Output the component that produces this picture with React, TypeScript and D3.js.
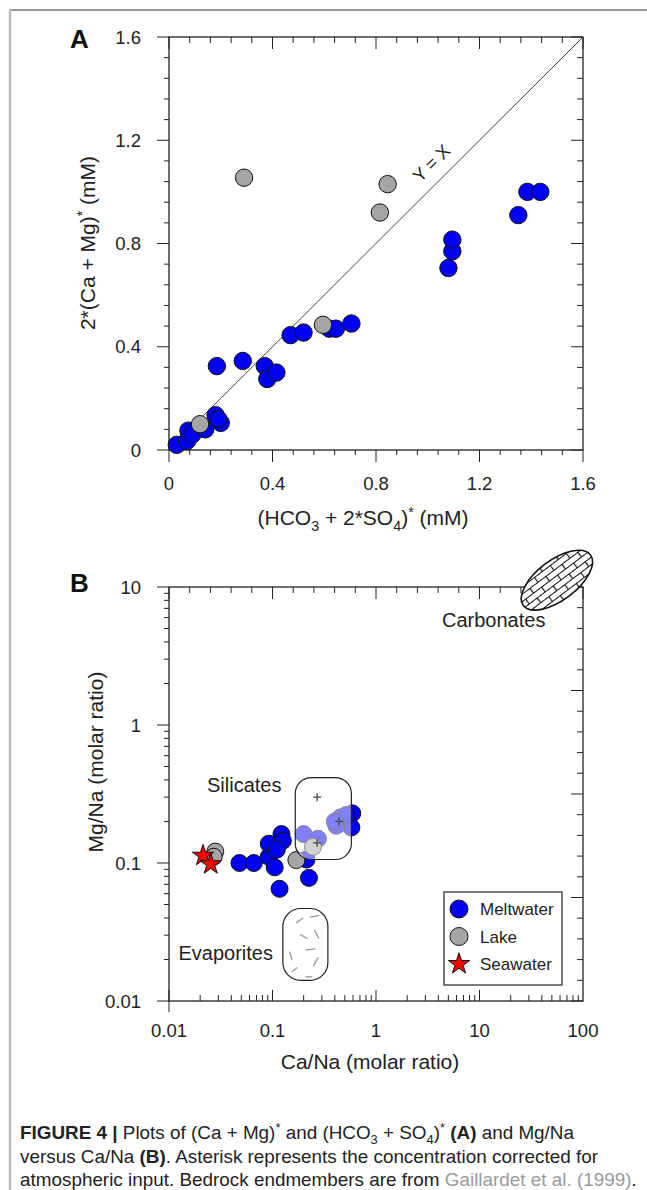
import React from 'react';
import { select, scaleLinear, scaleLog, range, symbol, symbolStar } from 'd3';

// ---- panel A: (HCO3 + 2*SO4)* vs 2*(Ca + Mg)*, mM
const meltA_x = [0.03, 0.07, 0.075, 0.09, 0.14, 0.18, 0.2, 0.19, 0.185, 0.285, 0.37, 0.38, 0.415, 0.47, 0.52, 0.62, 0.645, 0.705, 1.08, 1.095, 1.095, 1.35, 1.385, 1.435];
const meltA_y = [0.02, 0.035, 0.075, 0.06, 0.08, 0.135, 0.105, 0.12, 0.325, 0.345, 0.325, 0.275, 0.3, 0.445, 0.455, 0.47, 0.47, 0.49, 0.705, 0.77, 0.815, 0.91, 1.0, 1.0];
const lakeA_x = [0.12, 0.29, 0.595, 0.815, 0.845];
const lakeA_y = [0.1, 1.055, 0.485, 0.92, 1.03];
const ticksA = [0, 0.4, 0.8, 1.2, 1.6];

// ---- panel B: Ca/Na vs Mg/Na (molar ratio)
const meltB_ca = [0.048, 0.066, 0.092, 0.092, 0.122, 0.126, 0.105, 0.11, 0.117, 0.225, 0.213, 0.59, 0.578, 0.2, 0.275, 0.414, 0.453, 0.518, 0.4];
const meltB_mg = [0.1, 0.1, 0.111, 0.138, 0.162, 0.145, 0.093, 0.125, 0.065, 0.078, 0.106, 0.229, 0.181, 0.162, 0.15, 0.186, 0.214, 0.223, 0.2];
const lakeB_ca = [0.17, 0.028, 0.027, 0.246];
const lakeB_mg = [0.105, 0.121, 0.111, 0.131];
const seaB_ca = [0.0213, 0.0253];
const seaB_mg = [0.113, 0.098];
const ticksBx = [0.01, 0.1, 1, 10, 100];
const ticksBy = [0.01, 0.1, 1, 10];

// bedrock endmembers (Gaillardet et al. 1999)
const silicateCa = [0.27, 0.44, 0.27];
const silicateMg = [0.3, 0.2, 0.14];
const silicateBoxCa = [0.166, 0.578];
const silicateBoxMg = [0.106, 0.416];
const evapBoxCa = [0.126, 0.343];
const evapBoxMg = [0.0141, 0.0468];
const carbCa = 56;
const carbMg = 11.2;

const BLUE = '#0000f6';
const GRAY = '#a5a5a5';
const INK = '#222';
const FONT = '"Liberation Sans", Arial, sans-serif';

type Part = { t: string; bold?: boolean; sub?: boolean; sup?: boolean; fill?: string };

const richText = (g: any, parts: Part[], size: number) => {
    let shift = 0;
    parts.forEach(p => {
        const target = p.sub ? size * 0.28 : p.sup ? -size * 0.38 : 0;
        const ts = g.append('tspan').text(p.t).attr('dy', target - shift);
        shift = target;
        if (p.sub || p.sup) ts.attr('font-size', size * 0.68);
        if (p.bold) ts.attr('font-weight', 'bold');
        if (p.fill) ts.attr('fill', p.fill);
    });
};

const App: React.FC = () => {
    const ref = React.useRef<SVGSVGElement>(null);

    React.useEffect(() => {
        const svg = select(ref.current);
        svg.selectAll('*').remove();
        svg.attr('font-family', FONT);

        // page frame
        svg.append('line').attr('x1', 10).attr('y1', 10).attr('x2', 647).attr('y2', 10).attr('stroke', '#777').attr('stroke-width', 1.3);
        svg.append('line').attr('x1', 10).attr('y1', 10).attr('x2', 10).attr('y2', 1190).attr('stroke', '#bcbcbc').attr('stroke-width', 2.5);

        const defs = svg.append('defs');
        const brick = defs.append('pattern').attr('id', 'brick').attr('patternUnits', 'userSpaceOnUse')
            .attr('width', 20).attr('height', 12);
        brick.append('rect').attr('width', 20).attr('height', 12).attr('fill', '#fff');
        brick.append('path').attr('d', 'M0,0.5H20M0,6.5H20M0.5,0V6M10.5,6V12')
            .attr('stroke', '#111').attr('stroke-width', 1.2).attr('fill', 'none');

        // ================= PANEL A =================
        const L = 169, R = 583;
        const xA = scaleLinear().domain([0, 1.6]).range([L, R]);
        const yA = scaleLinear().domain([0, 1.6]).range([450, 37]);
        const gA = svg.append('g');

        const minorA = range(0, 21).map(i => i * 0.08);
        minorA.forEach((v, i) => {
            const major = i % 5 === 0;
            // bottom & left outward, top & right inward
            gA.append('line').attr('x1', xA(v)).attr('x2', xA(v)).attr('y1', 450).attr('y2', 450 + (major ? 12 : 5)).attr('stroke', INK);
            gA.append('line').attr('x1', xA(v)).attr('x2', xA(v)).attr('y1', 37).attr('y2', 37 + (major ? 12 : 6)).attr('stroke', INK);
            gA.append('line').attr('y1', yA(v)).attr('y2', yA(v)).attr('x1', L).attr('x2', L - (major ? 12 : 5)).attr('stroke', INK);
            gA.append('line').attr('y1', yA(v)).attr('y2', yA(v)).attr('x1', R).attr('x2', R - (major ? 12 : 6)).attr('stroke', INK);
        });
        gA.append('rect').attr('x', L).attr('y', 37).attr('width', R - L).attr('height', 450 - 37)
            .attr('fill', 'none').attr('stroke', INK).attr('stroke-width', 1.3);

        const fmtA = (d: number) => (d === 0 ? '0' : d.toFixed(1));
        gA.selectAll('text.xt').data(ticksA).enter().append('text')
            .attr('x', d => xA(d)).attr('y', 490).attr('text-anchor', 'middle')
            .attr('font-size', 18.5).attr('fill', INK).text(fmtA);
        gA.selectAll('text.yt').data(ticksA).enter().append('text')
            .attr('x', 141).attr('y', d => yA(d) + 6.5).attr('text-anchor', 'end')
            .attr('font-size', 18.5).attr('fill', INK).text(fmtA);

        // 1:1 line
        gA.append('line').attr('x1', xA(0)).attr('y1', yA(0)).attr('x2', xA(1.6)).attr('y2', yA(1.6))
            .attr('stroke', '#444').attr('stroke-width', 1);
        gA.append('text').attr('transform', `translate(${xA(1.015)},${yA(1.11)}) rotate(-45)`)
            .attr('text-anchor', 'middle').attr('dy', 6).attr('font-size', 18).attr('fill', INK).text('Y = X');

        gA.selectAll('circle.m').data(meltA_x).enter().append('circle')
            .attr('cx', d => xA(d)).attr('cy', (d, i) => yA(meltA_y[i])).attr('r', 8.7)
            .attr('fill', BLUE).attr('stroke', '#111').attr('stroke-width', 1);
        gA.selectAll('circle.l').data(lakeA_x).enter().append('circle')
            .attr('cx', d => xA(d)).attr('cy', (d, i) => yA(lakeA_y[i])).attr('r', 8.7)
            .attr('fill', GRAY).attr('stroke', '#111').attr('stroke-width', 1);

        gA.append('text').attr('x', 70).attr('y', 48).attr('font-size', 26).attr('font-weight', 'bold').attr('fill', '#111').text('A');
        const tA = gA.append('text').attr('x', 363).attr('y', 525).attr('text-anchor', 'middle').attr('font-size', 21).attr('fill', INK);
        richText(tA, [{ t: '(HCO' }, { t: '3', sub: true }, { t: ' + 2*SO' }, { t: '4', sub: true }, { t: ')' }, { t: '*', sup: true }, { t: ' (mM)' }], 21);
        const tAy = gA.append('text').attr('transform', `translate(95,243) rotate(-90)`).attr('text-anchor', 'middle').attr('font-size', 21).attr('fill', INK);
        richText(tAy, [{ t: '2*(Ca + Mg)' }, { t: '*', sup: true }, { t: ' (mM)' }], 21);

        // ================= PANEL B =================
        const T = 587, B = 1001;
        const xB = scaleLog().domain([0.01, 100]).range([L, R]);
        const yB = scaleLog().domain([0.01, 10]).range([B, T]);
        const gB = svg.append('g');

        // log ticks: bottom (inward) and left (outward)
        ticksBx.slice(0, -1).forEach(dec => {
            range(1, 10).forEach(k => {
                const v = dec * k;
                gB.append('line').attr('x1', xB(v)).attr('x2', xB(v)).attr('y1', B).attr('y2', B - (k === 1 ? 11 : 6)).attr('stroke', INK);
            });
        });
        ticksBy.slice(0, -1).forEach(dec => {
            range(1, 10).forEach(k => {
                const v = dec * k;
                gB.append('line').attr('y1', yB(v)).attr('y2', yB(v)).attr('x1', L).attr('x2', L - (k === 1 ? 12 : 5)).attr('stroke', INK);
            });
        });
        gB.append('line').attr('y1', yB(10)).attr('y2', yB(10)).attr('x1', L).attr('x2', L - 12).attr('stroke', INK);
        gB.append('line').attr('x1', L).attr('x2', L).attr('y1', B).attr('y2', B + 11).attr('stroke', INK);
        // top and right: evenly divided ticks (inward)
        const div = scaleLinear().domain([0, 20]);
        range(0, 21).forEach(i => {
            const major = i % 5 === 0;
            const x = div.range([L, R])(i);
            const y = div.range([B, T])(i);
            gB.append('line').attr('x1', x).attr('x2', x).attr('y1', T).attr('y2', T + (major ? 12 : 6)).attr('stroke', INK);
            gB.append('line').attr('y1', y).attr('y2', y).attr('x1', R).attr('x2', R - (major ? 12 : 6)).attr('stroke', INK);
        });
        gB.append('rect').attr('x', L).attr('y', T).attr('width', R - L).attr('height', B - T)
            .attr('fill', 'none').attr('stroke', INK).attr('stroke-width', 1.3);

        const fmtB = (d: number) => (d >= 1 ? String(d) : d === 0.1 ? '0.1' : '0.01');
        gB.selectAll('text.xt').data(ticksBx).enter().append('text')
            .attr('x', d => xB(d)).attr('y', 1037).attr('text-anchor', 'middle')
            .attr('font-size', 18.5).attr('fill', INK).text(fmtB);
        gB.selectAll('text.yt').data(ticksBy).enter().append('text')
            .attr('x', 141).attr('y', d => yB(d) + 6.5).attr('text-anchor', 'end')
            .attr('font-size', 18.5).attr('fill', INK).text(fmtB);

        // carbonates field
        gB.append('ellipse').attr('cx', xB(carbCa)).attr('cy', yB(carbMg)).attr('rx', 42).attr('ry', 20)
            .attr('transform', `rotate(-37,${xB(carbCa)},${yB(carbMg)})`)
            .attr('fill', 'url(#brick)').attr('stroke', '#111').attr('stroke-width', 1.6);
        gB.append('text').attr('x', 442).attr('y', 627).attr('font-size', 20).attr('fill', INK).text('Carbonates');

        // samples
        gB.selectAll('circle.m').data(meltB_ca).enter().append('circle')
            .attr('cx', d => xB(d)).attr('cy', (d, i) => yB(meltB_mg[i])).attr('r', 8.5)
            .attr('fill', BLUE).attr('stroke', '#111').attr('stroke-width', 1);
        gB.selectAll('circle.l').data(lakeB_ca).enter().append('circle')
            .attr('cx', d => xB(d)).attr('cy', (d, i) => yB(lakeB_mg[i])).attr('r', 8.5)
            .attr('fill', GRAY).attr('stroke', '#111').attr('stroke-width', 1);
        const star = symbol().type(symbolStar).size(140);
        gB.selectAll('path.s').data(seaB_ca).enter().append('path')
            .attr('d', star()!).attr('transform', (d, i) => `translate(${xB(d)},${yB(seaB_mg[i])})`)
            .attr('fill', '#ff0000').attr('stroke', '#111').attr('stroke-width', 1);

        // silicates field (semi-opaque over the samples)
        const sx0 = xB(silicateBoxCa[0]), sx1 = xB(silicateBoxCa[1]);
        const sy0 = yB(silicateBoxMg[1]), sy1 = yB(silicateBoxMg[0]);
        gB.append('rect').attr('x', sx0).attr('y', sy0).attr('width', sx1 - sx0).attr('height', sy1 - sy0)
            .attr('rx', 16).attr('fill', '#fff').attr('fill-opacity', 0.5).attr('stroke', '#222').attr('stroke-width', 1.2);
        silicateCa.forEach((c, i) => {
            const x = xB(c), y = yB(silicateMg[i]);
            gB.append('path').attr('d', `M${x - 4},${y}H${x + 4}M${x},${y - 4}V${y + 4}`).attr('stroke', '#444').attr('stroke-width', 1.3);
        });
        gB.append('text').attr('x', 207).attr('y', 792).attr('font-size', 20).attr('fill', INK).text('Silicates');

        // evaporites field
        const ex0 = xB(evapBoxCa[0]), ex1 = xB(evapBoxCa[1]);
        const ey0 = yB(evapBoxMg[1]), ey1 = yB(evapBoxMg[0]);
        gB.append('rect').attr('x', ex0).attr('y', ey0).attr('width', ex1 - ex0).attr('height', ey1 - ey0)
            .attr('rx', 18).attr('fill', '#fff').attr('stroke', '#222').attr('stroke-width', 1.2);
        const dashes = [[0.3, 0.2, 0.45, 0.13], [0.6, 0.12, 0.8, 0.1], [0.38, 0.36, 0.55, 0.42], [0.7, 0.3, 0.8, 0.42],
            [0.5, 0.58, 0.72, 0.56], [0.15, 0.6, 0.2, 0.72], [0.78, 0.68, 0.68, 0.8], [0.2, 0.88, 0.32, 0.82], [0.5, 0.95, 0.65, 0.95]];
        dashes.forEach(([a, b, c, d]) => {
            gB.append('line').attr('x1', ex0 + a * (ex1 - ex0)).attr('y1', ey0 + b * (ey1 - ey0))
                .attr('x2', ex0 + c * (ex1 - ex0)).attr('y2', ey0 + d * (ey1 - ey0))
                .attr('stroke', '#999').attr('stroke-width', 1.3);
        });
        gB.append('text').attr('x', 273).attr('y', 960).attr('text-anchor', 'end').attr('font-size', 20).attr('fill', INK).text('Evaporites');

        // legend
        gB.append('rect').attr('x', 444).attr('y', 892).attr('width', 118).attr('height', 93)
            .attr('fill', '#fff').attr('stroke', '#222').attr('stroke-width', 1.2);
        const legend = [
            { name: 'Meltwater', kind: 'c', fill: BLUE },
            { name: 'Lake', kind: 'c', fill: GRAY },
            { name: 'Seawater', kind: 's', fill: '#ff0000' },
        ];
        legend.forEach((it, i) => {
            const y = 909 + i * 27.5;
            if (it.kind === 'c') {
                gB.append('circle').attr('cx', 459).attr('cy', y).attr('r', 9).attr('fill', it.fill).attr('stroke', '#111');
            } else {
                gB.append('path').attr('d', star()!).attr('transform', `translate(459,${y})`).attr('fill', it.fill).attr('stroke', '#111');
            }
            gB.append('text').attr('x', 480).attr('y', y + 6).attr('font-size', 17).attr('fill', INK).text(it.name);
        });

        gB.append('text').attr('x', 70).attr('y', 592).attr('font-size', 26).attr('font-weight', 'bold').attr('fill', '#111').text('B');
        gB.append('text').attr('x', 370).attr('y', 1069).attr('text-anchor', 'middle').attr('font-size', 21).attr('fill', INK).text('Ca/Na (molar ratio)');
        gB.append('text').attr('transform', `translate(103,762) rotate(-90)`).attr('text-anchor', 'middle').attr('font-size', 21).attr('fill', INK).text('Mg/Na (molar ratio)');

        // ================= CAPTION =================
        // condensed caption face: one horizontal squeeze, fitted so the last line ends at the right edge
        const lines: Part[][] = [
            [{ t: 'FIGURE 4 |', bold: true }, { t: ' Plots of (Ca + Mg)' }, { t: '*', sup: true }, { t: ' and (HCO' }, { t: '3', sub: true }, { t: ' + SO' }, { t: '4', sub: true }, { t: ')' }, { t: '*', sup: true }, { t: ' (A)', bold: true }, { t: ' and Mg/Na' }],
            [{ t: 'versus Ca/Na ' }, { t: '(B)', bold: true }, { t: '. Asterisk represents the concentration corrected for' }],
            [{ t: 'atmospheric input. Bedrock endmembers are from ' }, { t: 'Gaillardet et al. (1999)', fill: '#9a9a9a' }, { t: '.' }],
        ];
        const capNodes = lines.map(parts => {
            const t = svg.append('text').attr('x', 0).attr('y', 0).attr('font-size', 18).attr('fill', INK);
            richText(t, parts, 18);
            return t;
        });
        const w3 = (capNodes[2].node() as SVGTextElement).getComputedTextLength() || 617;
        const k = 617 / w3;
        capNodes.forEach((t, i) => {
            t.attr('transform', `translate(20,${1139 + i * 23.5}) scale(${k},1)`);
        });
    }, []);

    return (
        <svg ref={ref} width={647} height={1190} style={{ position: 'absolute', left: 0, top: 0, background: '#fff' }} />
    );
};

export default App;
